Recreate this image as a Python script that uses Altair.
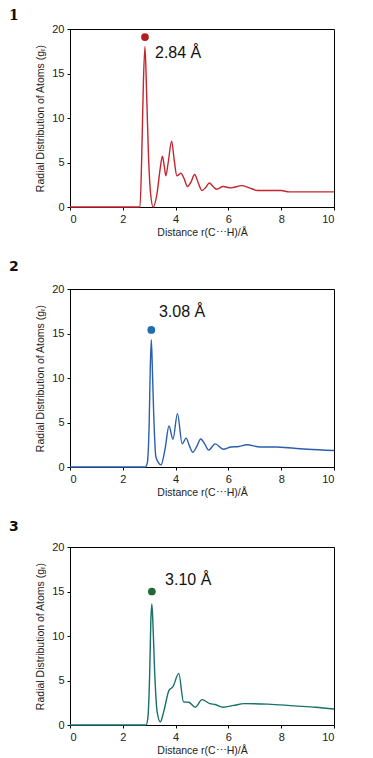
import altair as alt
import pandas as pd

# Panel 1 (red)
r1 = [0, 1, 2, 2.5, 2.65, 2.72, 2.78, 2.84, 2.9, 2.97, 3.05, 3.15, 3.3, 3.42, 3.5, 3.57, 3.63, 3.72, 3.85, 3.95, 4.05, 4.2, 4.32, 4.45, 4.58, 4.72, 4.86, 5.0, 5.14, 5.28, 5.42, 5.55, 5.8, 6.1, 6.5, 6.8, 7.1, 7.5, 8.0, 8.3, 9.0, 10.0]
g1 = [0, 0, 0, 0, 0, 6.0, 14.0, 18.0, 13.0, 6.0, 1.6, 0.0, 1.6, 4.4, 5.7, 4.6, 3.5, 5.0, 7.4, 5.2, 3.5, 3.8, 3.2, 2.3, 2.8, 3.65, 2.7, 1.85, 2.2, 2.7, 2.3, 2.0, 2.3, 2.15, 2.4, 2.15, 1.85, 1.85, 1.85, 1.7, 1.7, 1.7]

# Panel 2 (blue)
r2 = [0, 1, 2, 2.85, 2.93, 3.0, 3.04, 3.08, 3.12, 3.17, 3.25, 3.35, 3.45, 3.6, 3.75, 3.9, 4.07, 4.25, 4.4, 4.52, 4.65, 4.8, 4.95, 5.1, 5.25, 5.5, 5.8, 6.1, 6.4, 6.7, 7.2, 7.8, 8.5, 9.0, 10.0]
g2 = [0, 0, 0, 0, 0.5, 5.0, 11.0, 14.3, 11.0, 6.0, 1.2, 0.5, 0.25, 2.0, 4.6, 3.1, 6.0, 2.6, 3.25, 2.4, 1.65, 2.3, 3.15, 2.6, 1.9, 2.6, 2.0, 2.25, 2.3, 2.5, 2.25, 2.25, 2.1, 2.0, 1.85]

# Panel 3 (teal)
r3 = [0, 1, 2, 2.88, 2.95, 3.02, 3.06, 3.1, 3.14, 3.2, 3.3, 3.42, 3.55, 3.75, 3.9, 4.12, 4.3, 4.5, 4.75, 5.0, 5.3, 5.5, 5.8, 6.2, 6.6, 7.5, 8.5, 9.3, 10.0]
g3 = [0, 0, 0, 0, 0.8, 6.0, 11.5, 13.6, 11.5, 6.5, 1.5, 0.35, 1.5, 3.9, 4.3, 5.8, 2.6, 2.55, 2.0, 2.85, 2.4, 2.3, 2.0, 2.2, 2.4, 2.35, 2.15, 2.0, 1.8]

peak_r = [2.84, 3.08, 3.10]
marker_g = [19.1, 15.4, 15.0]
label_r = [3.22, 3.37, 3.6]
label_g = [17.3, 17.4, 16.3]
peak_labels = ["2.84 Å", "3.08 Å", "3.10 Å"]
panel_titles = ["1", "2", "3"]
line_colors = ["#c4262e", "#2b5fad", "#17706c"]
marker_colors = ["#b01e22", "#1f6fae", "#1e6b35"]
title_fonts = ["DejaVu Serif", "DejaVu Sans", "DejaVu Sans"]
title_offsets = [0, 9, 7]

series = [(r1, g1), (r2, g2), (r3, g3)]

x_scale = alt.Scale(domain=[0, 10], nice=False)
y_scale = alt.Scale(domain=[0, 20], nice=False)

x_axis = alt.Axis(title="Distance r(C⋯H)/Å", values=[0, 2, 4, 6, 8, 10], grid=False,
                  tickSize=3, labelFontSize=11, titleFontSize=10.5, titleFontWeight="normal",
                  labelColor="#222", titleColor="#222", domainColor="#000", tickColor="#000",
                  labelPadding=3, titlePadding=3, labelFont="Liberation Sans", titleFont="Liberation Sans")
y_axis = alt.Axis(title="Radial Distribution of Atoms (gᵣ)", values=[0, 5, 10, 15, 20], grid=False,
                  tickSize=3, labelFontSize=11, titleFontSize=10.5, titleFontWeight="normal",
                  labelColor="#222", titleColor="#222", domainColor="#000", tickColor="#000",
                  labelPadding=3, titlePadding=6, labelFont="Liberation Sans", titleFont="Liberation Sans")

panels = []
for i, (r, g) in enumerate(series):
    df = pd.DataFrame({"r": r, "g": g})
    line = alt.Chart(df).mark_line(color=line_colors[i], strokeWidth=1.4, interpolate="monotone").encode(
        x=alt.X("r:Q", scale=x_scale, axis=x_axis),
        y=alt.Y("g:Q", scale=y_scale, axis=y_axis),
    )
    mdf = pd.DataFrame({"r": [peak_r[i]], "g": [marker_g[i]], "lr": [label_r[i]], "lg": [label_g[i]], "t": [peak_labels[i]]})
    marker = alt.Chart(mdf).mark_circle(color=marker_colors[i], size=60, opacity=1).encode(
        x=alt.X("r:Q", scale=x_scale), y=alt.Y("g:Q", scale=y_scale))
    label = alt.Chart(mdf).mark_text(align="left", baseline="middle", fontSize=16,
                                     font="Liberation Sans", color="#111").encode(
        x=alt.X("lr:Q", scale=x_scale), y=alt.Y("lg:Q", scale=y_scale), text="t:N")
    panel = alt.layer(line, marker, label).properties(
        width=264, height=178,
        title=alt.TitleParams(text=panel_titles[i], anchor="start", frame="group", dx=-61,
                              fontSize=14, font=title_fonts[i], fontWeight="bold",
                              color="#111", offset=title_offsets[i]),
    )
    panels.append(panel)

chart = alt.vconcat(*panels, spacing=21, padding=0, background="white").configure_view(
    stroke="#000", strokeWidth=1)

chart.save("out.html", embed_options={"renderer": "svg", "actions": False})
